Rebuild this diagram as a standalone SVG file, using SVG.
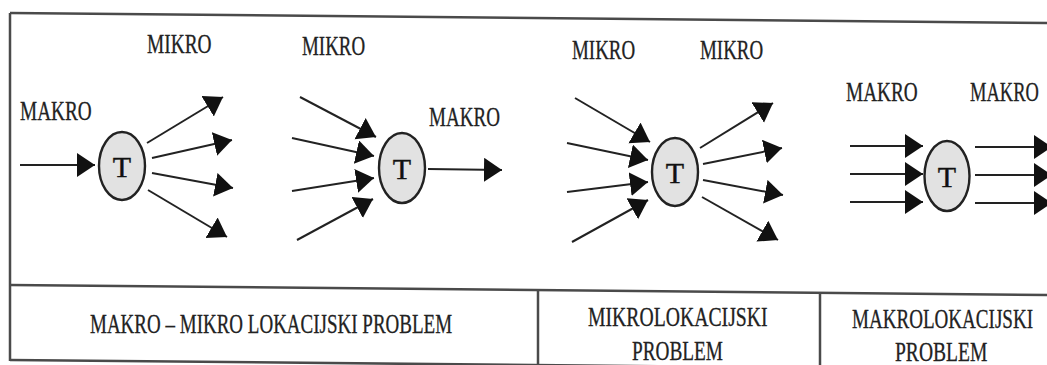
<svg xmlns="http://www.w3.org/2000/svg" width="1047" height="365" viewBox="0 0 1047 365">
<style>
.frame{fill:none;stroke:#4a4a4a;stroke-width:2.5}
.conn line{stroke:#222;stroke-width:2;marker-end:url(#ah)}
.node ellipse{fill:#e2e2e2;stroke:#222;stroke-width:2.4}
.node text{font-family:"Liberation Serif",serif;font-size:30px;fill:#111;text-anchor:middle;stroke:#111;stroke-width:0.4}
.lbl,.cap{font-family:"Liberation Serif",serif;font-size:27px;fill:#222;stroke:#222;stroke-width:0.3}
</style>
<defs>
<marker id="ah" markerUnits="userSpaceOnUse" markerWidth="20" markerHeight="26" refX="18" refY="12" orient="auto">
<path d="M0,0 L18,12 L0,24 Z" fill="#111"/>
</marker>
</defs>
<rect width="1047" height="365" fill="#fff"/>
<g id="frame">
<line class="frame" x1="10" y1="13" x2="1047" y2="23"/>
<line class="frame" x1="10" y1="13" x2="10" y2="361"/>
<line class="frame" x1="10" y1="285" x2="1047" y2="295"/>
<line class="frame" x1="10" y1="360" x2="1047" y2="370"/>
<line class="frame" x1="538" y1="290" x2="538" y2="365"/>
<line class="frame" x1="820" y1="293" x2="820" y2="365"/>
</g>
<g id="connectors" class="conn">
<line x1="20" y1="165" x2="95" y2="165"/>
<line x1="147" y1="143" x2="223" y2="97"/>
<line x1="152" y1="158" x2="232" y2="140"/>
<line x1="152" y1="173" x2="233" y2="188"/>
<line x1="148" y1="190" x2="227" y2="237"/>
<line x1="300" y1="97" x2="376" y2="137"/>
<line x1="292" y1="138" x2="374" y2="156"/>
<line x1="292" y1="191" x2="374" y2="178"/>
<line x1="297" y1="240" x2="373" y2="199"/>
<line x1="428" y1="169" x2="502" y2="170"/>
<line x1="575" y1="98" x2="650" y2="142"/>
<line x1="567" y1="143" x2="648" y2="160"/>
<line x1="567" y1="192" x2="648" y2="182"/>
<line x1="572" y1="242" x2="648" y2="200"/>
<line x1="700" y1="148" x2="773" y2="103"/>
<line x1="703" y1="164" x2="782" y2="148"/>
<line x1="703" y1="180" x2="783" y2="195"/>
<line x1="702" y1="197" x2="778" y2="240"/>
<line x1="850" y1="146" x2="923" y2="146"/>
<line x1="850" y1="174" x2="923" y2="174"/>
<line x1="850" y1="202" x2="923" y2="202"/>
<line x1="975" y1="147" x2="1052" y2="147"/>
<line x1="975" y1="175" x2="1052" y2="175"/>
<line x1="975" y1="203" x2="1052" y2="203"/>
</g>
<g id="node1" class="node"><ellipse cx="122" cy="166" rx="23" ry="34"/><text x="122" y="177">T</text></g>
<g id="node2" class="node"><ellipse cx="402" cy="168" rx="23" ry="35"/><text x="402" y="179">T</text></g>
<g id="node3" class="node"><ellipse cx="675" cy="172" rx="23" ry="34"/><text x="675" y="183">T</text></g>
<g id="node4" class="node"><ellipse cx="947" cy="176" rx="22.5" ry="35"/><text x="947" y="187">T</text></g>
<g id="labels">
<text class="lbl" transform="translate(20,120) scale(0.71,1)" textLength="101" lengthAdjust="spacingAndGlyphs">MAKRO</text>
<text class="lbl" transform="translate(147,53) scale(0.71,1)" textLength="91" lengthAdjust="spacingAndGlyphs">MIKRO</text>
<text class="lbl" transform="translate(302,55) scale(0.71,1)" textLength="89" lengthAdjust="spacingAndGlyphs">MIKRO</text>
<text class="lbl" transform="translate(429,126) scale(0.71,1)" textLength="100" lengthAdjust="spacingAndGlyphs">MAKRO</text>
<text class="lbl" transform="translate(572,59) scale(0.71,1)" textLength="89" lengthAdjust="spacingAndGlyphs">MIKRO</text>
<text class="lbl" transform="translate(700,59) scale(0.71,1)" textLength="89" lengthAdjust="spacingAndGlyphs">MIKRO</text>
<text class="lbl" transform="translate(846,101) scale(0.71,1)" textLength="101" lengthAdjust="spacingAndGlyphs">MAKRO</text>
<text class="lbl" transform="translate(970,101) scale(0.71,1)" textLength="97" lengthAdjust="spacingAndGlyphs">MAKRO</text>
<text class="cap" transform="translate(90,333) scale(0.71,1)" textLength="510" lengthAdjust="spacingAndGlyphs">MAKRO – MIKRO LOKACIJSKI PROBLEM</text>
<text class="cap" transform="translate(588,326) scale(0.71,1)" textLength="253" lengthAdjust="spacingAndGlyphs">MIKROLOKACIJSKI</text>
<text class="cap" transform="translate(632,360) scale(0.71,1)" textLength="128" lengthAdjust="spacingAndGlyphs">PROBLEM</text>
<text class="cap" transform="translate(852,328) scale(0.71,1)" textLength="255" lengthAdjust="spacingAndGlyphs">MAKROLOKACIJSKI</text>
<text class="cap" transform="translate(895,361) scale(0.71,1)" textLength="130" lengthAdjust="spacingAndGlyphs">PROBLEM</text>
</g>
</svg>
